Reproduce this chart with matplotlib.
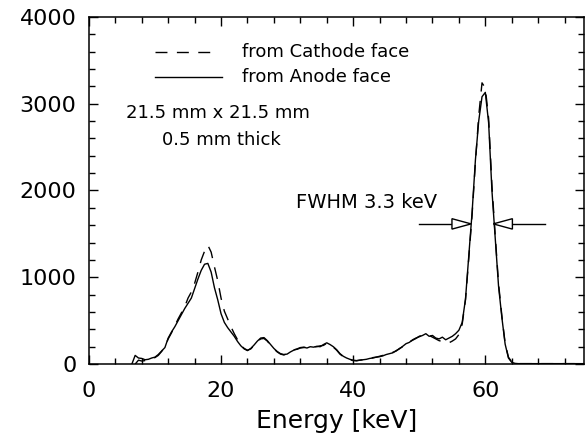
import numpy as np
import matplotlib
matplotlib.use("Agg")
import matplotlib.pyplot as plt
from matplotlib.patches import Polygon
from matplotlib.ticker import MultipleLocator

plt.rcParams['font.family'] = ['DejaVu Sans']

# spectra, 0.5 keV bins (bin centres start at e0)
bin_width = 0.5

anode_e0 = 6.5
anode_counts = [
    0, 100, 70, 65, 50, 55, 70,                                  # 6.5 - 9.5
    80, 110, 150, 190, 300, 370, 430, 500, 570, 640,             # 10 - 14.5
    700, 760, 870, 980, 1080, 1150, 1160, 1060, 880, 740,        # 15 - 19.5
    580, 480, 420, 370, 320, 260, 210, 175, 155, 180,            # 20 - 24.5
    220, 265, 300, 305, 270, 225, 180, 145, 120, 110,            # 25 - 29.5
    115, 140, 160, 175, 190, 195, 185, 200, 195, 205,            # 30 - 34.5
    200, 225, 245, 225, 200, 165, 120, 90, 70, 55,               # 35 - 39.5
    45, 40, 45, 50, 55, 65, 70, 80, 85, 95,                      # 40 - 44.5
    110, 120, 130, 155, 175, 205, 235, 250, 280, 300,            # 45 - 49.5
    315, 330, 350, 320, 330, 300, 290, 310, 280, 300,            # 50 - 54.5
    320, 350, 390, 480, 750, 1250, 1750, 2350, 2800, 3080,       # 55 - 59.5
    3130, 2780, 2000, 1450, 900, 540, 230, 70, 20, 8,            # 60 - 64.5
    5, 5, 5, 5, 5, 5, 5, 5, 5, 5,                                # 65 - 69.5
    5, 5, 5, 5, 5, 5, 5, 5, 5, 5, 5,                             # 70 - 75
]

cathode_e0 = 7.0
cathode_counts = [
    0, 45, 35, 40, 45, 60,                                       # 7 - 9.5
    75, 100, 145, 200, 290, 360, 440, 520, 590, 660,             # 10 - 14.5
    760, 830, 930, 1060, 1200, 1300, 1370, 1290, 1120, 960,      # 15 - 19.5
    760, 610, 520, 430, 350, 280, 220, 180, 160, 175,            # 20 - 24.5
    215, 260, 290, 295, 265, 215, 175, 140, 115, 105,            # 25 - 29.5
    120, 145, 165, 170, 185, 190, 195, 190, 200, 200,            # 30 - 34.5
    210, 215, 240, 230, 195, 160, 115, 85, 65, 50,               # 35 - 39.5
    40, 38, 45, 50, 60, 62, 75, 80, 90, 100,                     # 40 - 44.5
    105, 125, 135, 150, 180, 200, 230, 255, 275, 295,            # 45 - 49.5
    320, 335, 340, 330, 310, 290, 270, 260, 255, 245,            # 50 - 54.5
    265, 290, 340, 460, 740, 1220, 1720, 2320, 2860, 3240,       # 55 - 59.5
    3180, 2830, 2060, 1480, 930, 560, 240, 80, 25, 10,           # 60 - 64.5
    5, 5, 5, 5, 5, 5, 5, 5, 5, 5,                                # 65 - 69.5
    5, 5, 5, 5, 5, 5, 5, 5, 5, 5, 5,                             # 70 - 75
]

# FWHM marker of the 60 keV line
fwhm_low = 57.85
fwhm_high = 61.2
half_max = 1615

anode_e = anode_e0 + bin_width * np.arange(len(anode_counts))
cathode_e = cathode_e0 + bin_width * np.arange(len(cathode_counts))

fig = plt.figure(figsize=(5.85, 4.44), dpi=100)
ax = fig.add_axes([0.152, 0.180, 0.847, 0.782])

dash = (8.6, 6.8)
ax.plot(cathode_e, cathode_counts, color='black', lw=1.0, dashes=dash)
ax.plot(anode_e, anode_counts, color='black', lw=1.0)

ax.set_xlim(0, 75)
ax.set_ylim(0, 4000)
ax.xaxis.set_major_locator(MultipleLocator(20))
ax.xaxis.set_minor_locator(MultipleLocator(4))
ax.yaxis.set_major_locator(MultipleLocator(1000))
ax.yaxis.set_minor_locator(MultipleLocator(200))
ax.tick_params(which='both', direction='in', top=True, right=True, width=1.0)
ax.tick_params(which='major', length=6.5, labelsize=16)
ax.tick_params(axis='x', which='major', pad=12)
ax.tick_params(axis='y', which='major', pad=9)
ax.tick_params(which='minor', length=4.3)
for sp in ax.spines.values():
    sp.set_linewidth(1.1)
ax.set_xlabel('Energy [keV]', fontsize=18, labelpad=6)

# hand-drawn legend
tr = ax.transAxes
ax.plot([0.133, 0.246], [0.899, 0.899], transform=tr, color='black',
        lw=1.0, dashes=dash)
ax.plot([0.133, 0.268], [0.827, 0.827], transform=tr, color='black', lw=1.0)
ax.text(0.308, 0.899, 'from Cathode face', transform=tr, fontsize=13,
        va='center', ha='left')
ax.text(0.308, 0.827, 'from Anode face', transform=tr, fontsize=13,
        va='center', ha='left')
ax.text(0.0746, 0.723, '21.5 mm x 21.5 mm', transform=tr, fontsize=13,
        va='center', ha='left')
ax.text(0.147, 0.6455, '0.5 mm thick', transform=tr, fontsize=13,
        va='center', ha='left')

# FWHM arrows
ax.text(0.418, 0.465, 'FWHM 3.3 keV', transform=tr, fontsize=14,
        va='center', ha='left')
tri_len = 2.9
tri_h = 60
line_len = 5.0
ax.plot([fwhm_low - tri_len - line_len, fwhm_low - tri_len],
        [half_max, half_max], color='black', lw=1.0)
ax.add_patch(Polygon([(fwhm_low - tri_len, half_max + tri_h),
                      (fwhm_low - tri_len, half_max - tri_h),
                      (fwhm_low, half_max)], closed=True,
                     facecolor='white', edgecolor='black', lw=1.0, zorder=3))
ax.plot([fwhm_high + tri_len, fwhm_high + tri_len + line_len],
        [half_max, half_max], color='black', lw=1.0)
ax.add_patch(Polygon([(fwhm_high + tri_len, half_max + tri_h),
                      (fwhm_high + tri_len, half_max - tri_h),
                      (fwhm_high, half_max)], closed=True,
                     facecolor='white', edgecolor='black', lw=1.0, zorder=3))

fig.savefig('out.png', dpi=100)
